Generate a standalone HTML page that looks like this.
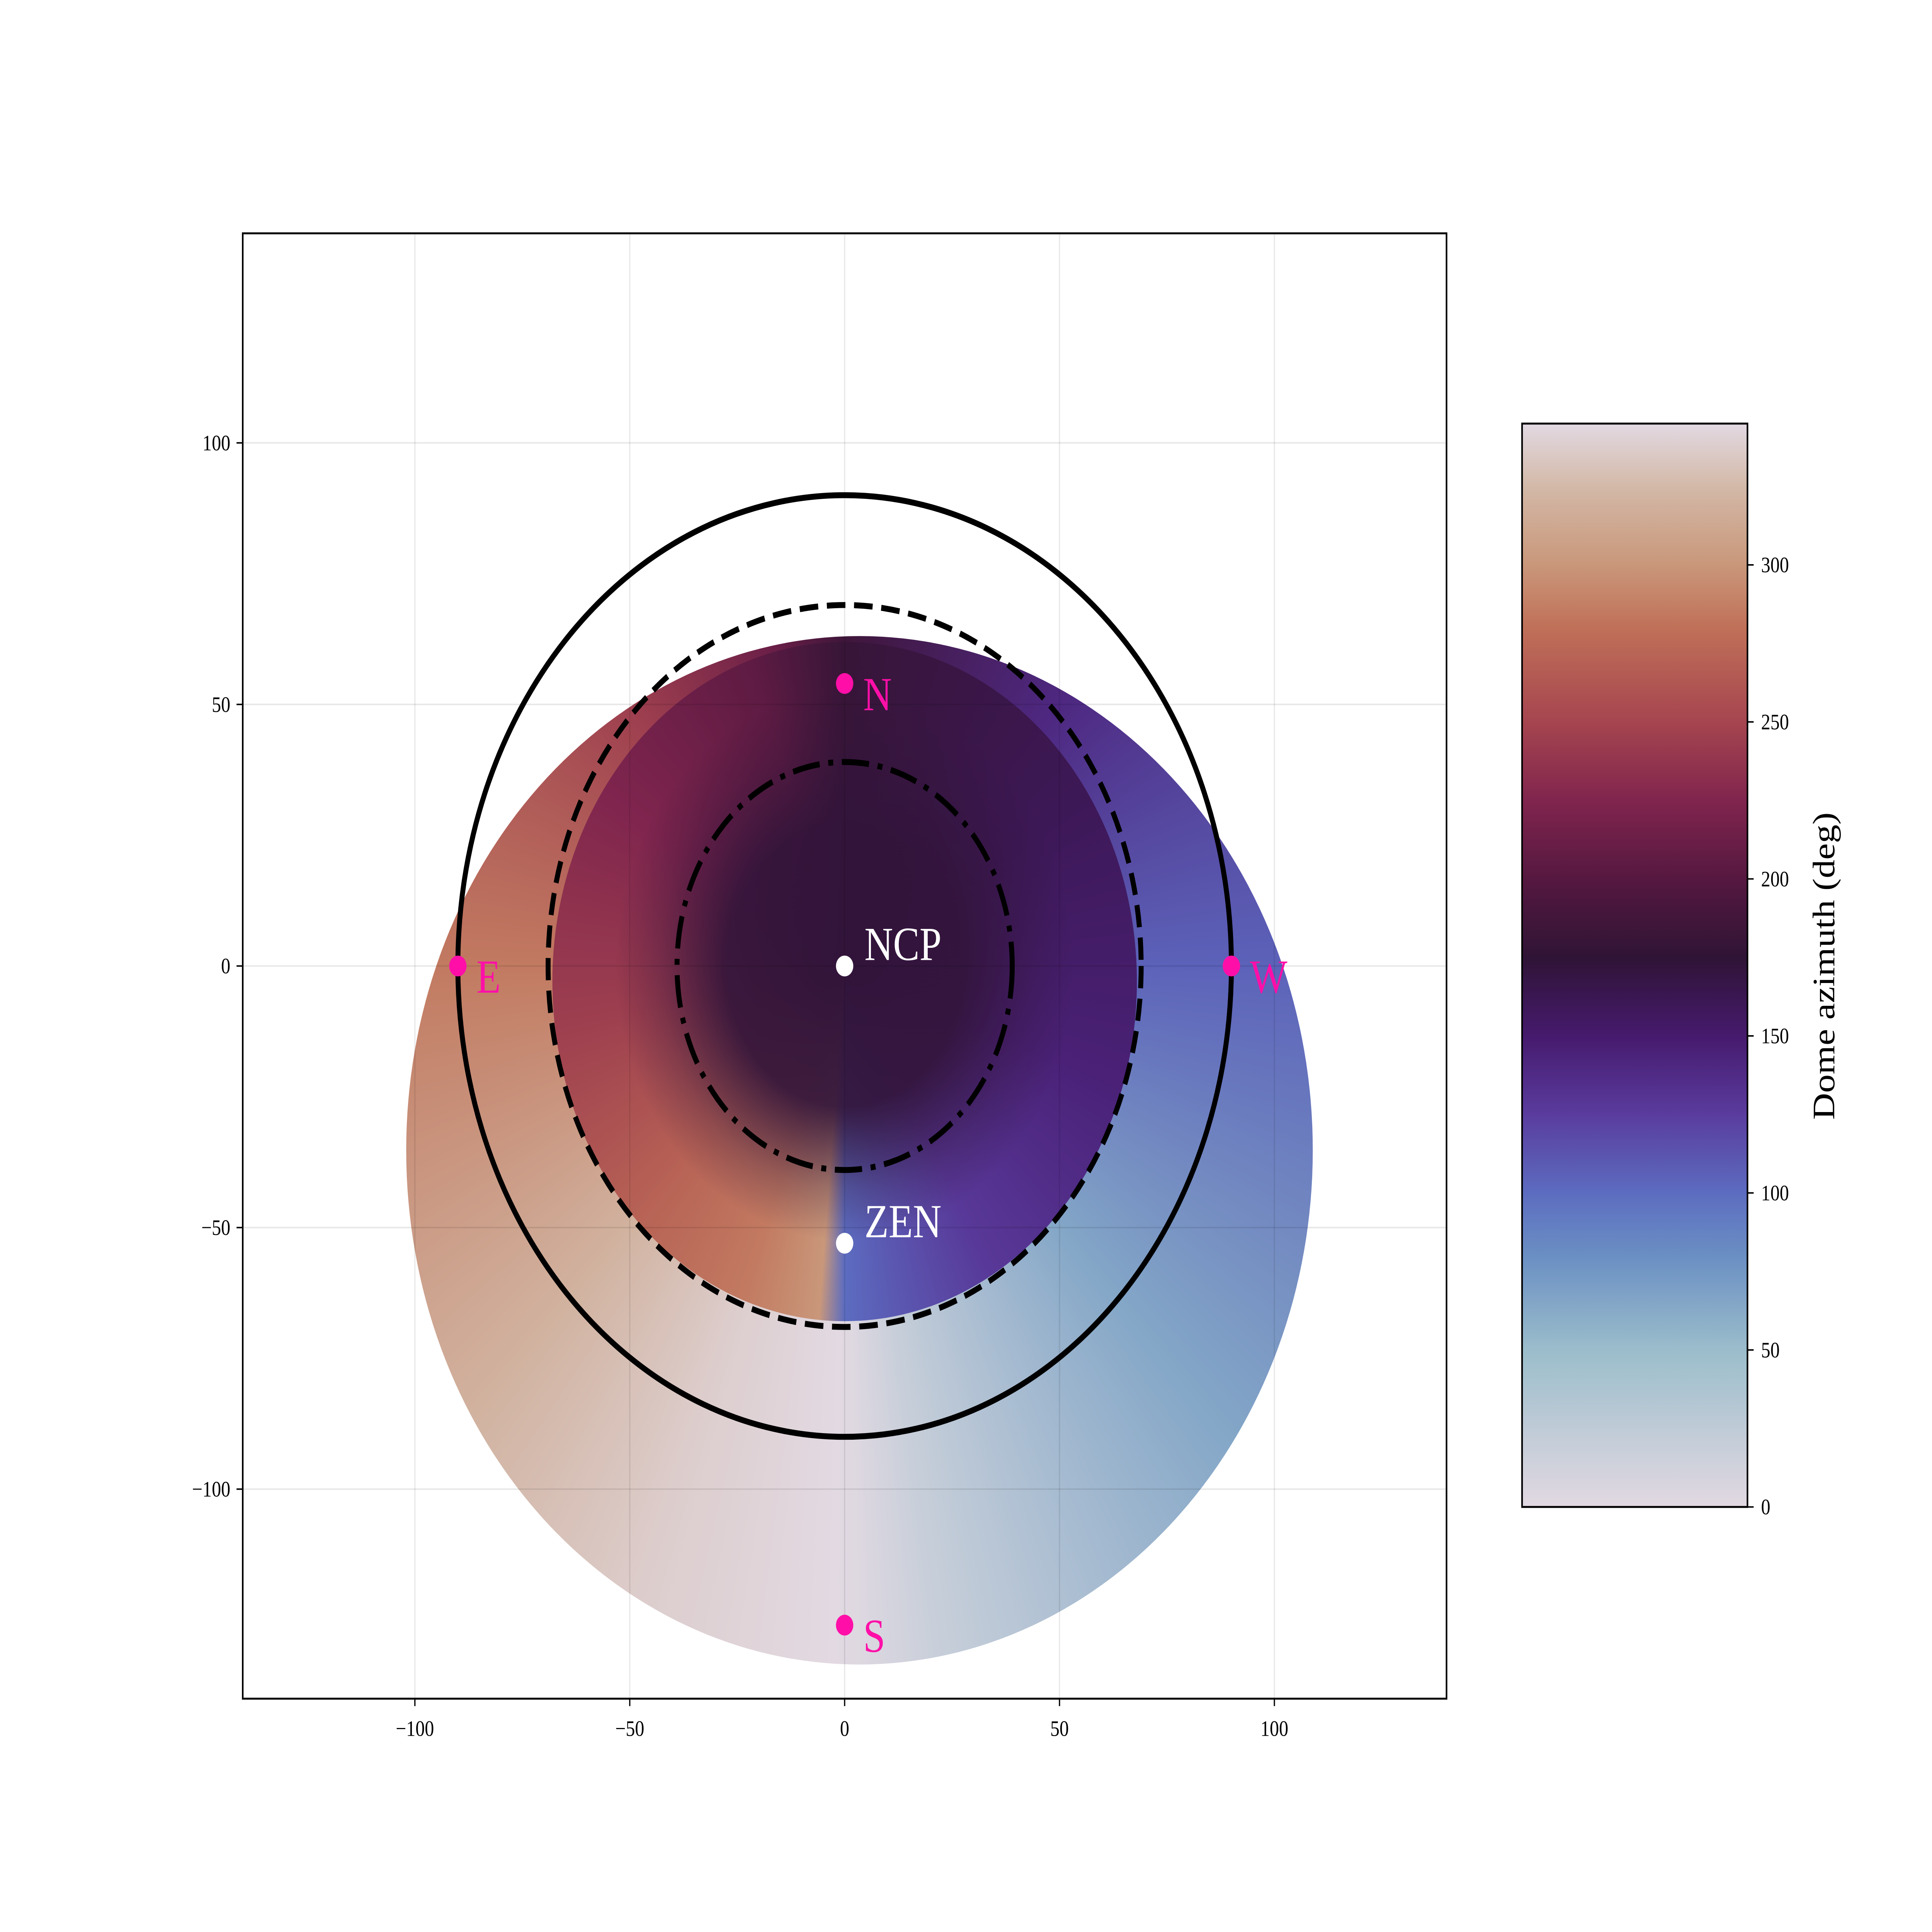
<!DOCTYPE html>
<html><head><meta charset="utf-8">
<style>
html,body{margin:0;padding:0;background:#fff;width:100vw;height:100vh;overflow:hidden;}
#wrap{position:absolute;left:0;top:0;width:1560px;height:1300px;transform-origin:0 0;overflow:hidden;background:#fff;}
.abs{position:absolute;}
svg text{font-family:"Liberation Serif",serif;}
</style></head>
<body>
<div id="wrap">
  <div id="disk" class="abs"></div>
  <div id="inner" class="abs"></div>
  <div id="diskDark" class="abs"></div>
  <div id="cbar" class="abs"></div>
  <svg id="ov" class="abs" width="1560" height="1300" viewBox="0 0 1560 1300" style="left:0;top:0"></svg>
</div>
<script>
// ---- data ----
const xTicks=[-100,-50,0,50,100];
const yTicks=[100,50,0,-50,-100];
const cbTicks=[0,50,100,150,200,250,300];
const angleStops=[0,45,90,135,170,179,181,200,225,270,315,345,360];
const azStops=[185,140,105,65,20,2,355,338,320,285,245,212,185];
const innerAngleStops=[0,60,110,150,170,180,185,200,225,260,300,340,360];
const innerAzStops=[180,160,145,128,110,100,300,285,270,245,225,205,180];
const markerNames=["N","E","W","S"];
const markerX=[0,-90,90,0];
const markerY=[54,0,0,-126];
const refNames=["NCP","ZEN"];
const refX=[0,0];
const refY=[0,-53];
const circleRadii=[90,69,39];
const circleStyles=["solid","dashed","dashdot"];
// colormap (style)
const cmV=[0,50,80,100,125,150,175,200,225,250,280,300,325,345];
const cmC=["#e2d9e2","#9bbdcb","#6a8fc3","#5c6cc0","#5a3c9e","#461a6d","#2f1436","#561840","#80254e","#a6454f","#c07058","#c9977a","#d3b9a8","#e2d9e2"];

function fit(){
  const w=window.innerWidth||6000, h=window.innerHeight||5000;
  document.getElementById('wrap').style.transform='scale('+(w/1560)+','+(h/1300)+')';
}
fit();
window.addEventListener('resize',fit);

function hex(c){return [parseInt(c.substr(1,2),16),parseInt(c.substr(3,2),16),parseInt(c.substr(5,2),16)];}
function cmap(v){
  v=Math.max(0,Math.min(345,v));
  for(let i=0;i<cmV.length-1;i++){
    if(v<=cmV[i+1]){const t=(v-cmV[i])/(cmV[i+1]-cmV[i]);const a=hex(cmC[i]),b=hex(cmC[i+1]);
      return "rgb("+a.map((x,k)=>Math.round(x+(b[k]-x)*t)).join(",")+")";}
  }
  return cmC[cmC.length-1];
}
const sx=x=>682+x*3.47, sy=y=>650-y*3.52;
const cy=v=>1014-v*2.113;
const NS="http://www.w3.org/2000/svg";
const ov=document.getElementById('ov');
function mk(tag,attrs,parent){const e=document.createElementNS(NS,tag);for(const k in attrs)e.setAttribute(k,attrs[k]);(parent||ov).appendChild(e);return e;}

// outer disk
const disk=document.getElementById('disk');
const dl=sx(-102),dr=sx(109),dt=sy(63),db=sy(-133.5);
const ncpX=sx(0)-dl,ncpY=sy(0)-dt;
Object.assign(disk.style,{left:dl+'px',top:dt+'px',width:(dr-dl)+'px',height:(db-dt)+'px',borderRadius:'50%',
  background:'conic-gradient(from 0deg at '+ncpX+'px '+ncpY+'px, '+angleStops.map((a,i)=>cmap(azStops[i])+' '+a+'deg').join(',')+')'});
// inner region (inside dashed circle)
const inner=document.getElementById('inner');
const il=sx(-68),ir=sx(68),it=sy(62),ib=sy(-68);
Object.assign(inner.style,{left:il+'px',top:it+'px',width:(ir-il)+'px',height:(ib-it)+'px',borderRadius:'50%',
  background:'conic-gradient(from 0deg at '+(sx(0)-il)+'px '+(sy(0)-it)+'px, '+innerAngleStops.map((a,i)=>cmap(innerAzStops[i])+' '+a+'deg').join(',')+')'});
const dd=document.getElementById('diskDark');
Object.assign(dd.style,{left:dl+'px',top:dt+'px',width:(dr-dl)+'px',height:(db-dt)+'px',borderRadius:'50%',
  background:'radial-gradient(circle at '+ncpX+'px '+ncpY+'px, rgba(50,20,58,1) 0px, rgba(50,20,58,0.92) 95px, rgba(50,20,58,0.3) 150px, rgba(50,20,58,0) 185px)'});

// grid
xTicks.forEach(t=>{const g=mk('line',{x1:sx(t),x2:sx(t),y1:157,y2:1143,stroke:'#000','stroke-opacity':0.09,'stroke-width':1});
  });
yTicks.forEach(t=>{const g=mk('line',{x1:196,x2:1168,y1:sy(t),y2:sy(t),stroke:'#000','stroke-opacity':0.09,'stroke-width':1});
  });

// circles
circleRadii.forEach((r,i)=>{
  const st=circleStyles[i];
  const c=mk('ellipse',{cx:sx(0),cy:sy(0),rx:r*3.47,ry:r*3.52,fill:'none',stroke:'#000','stroke-width':4});
  if(st==='dashed')c.setAttribute('stroke-dasharray','15 7');
  if(st==='dashdot')c.setAttribute('stroke-dasharray','22 7 4 7');
  
  
});

// markers
markerNames.forEach((n,i)=>{
  const c=mk('circle',{cx:sx(markerX[i]),cy:sy(markerY[i]),r:7,fill:'#ff0fa8'});
  
  
  const t=mk('text',{x:sx(markerX[i])+15,y:sy(markerY[i])+18,fill:'#ff0fa8','font-size':32});
  t.textContent=n;
  
  
});
refNames.forEach((n,i)=>{
  const c=mk('circle',{cx:sx(refX[i]),cy:sy(refY[i]),r:7,fill:'#fff'});
  
  
  const t=mk('text',{x:sx(refX[i])+16,y:sy(refY[i])-4,fill:'#fff','font-size':32});
  t.textContent=n;
  
  
});

// axes frame
const fr=mk('rect',{x:196,y:157,width:972,height:986,fill:'none',stroke:'#000','stroke-width':1.3});


xTicks.forEach(t=>{
  mk('line',{x1:sx(t),x2:sx(t),y1:1143,y2:1148,stroke:'#000','stroke-width':1});
  const tx=mk('text',{x:sx(t),y:1168,'font-size':15,'text-anchor':'middle'});
  tx.textContent=(t<0?'\u2212'+(-t):''+t);
  
  
});
yTicks.forEach(t=>{
  mk('line',{x1:191,x2:196,y1:sy(t),y2:sy(t),stroke:'#000','stroke-width':1});
  const tx=mk('text',{x:186,y:sy(t)+5,'font-size':15,'text-anchor':'end'});
  tx.textContent=(t<0?'\u2212'+(-t):''+t);
  
  
});

// colorbar
const cb=document.getElementById('cbar');
const stops=[];for(let v=0;v<=345;v+=5)stops.push(cmap(v)+' '+((v/345)*100).toFixed(2)+'%');
Object.assign(cb.style,{left:'1229px',top:cy(345)+'px',width:'182px',height:(cy(0)-cy(345))+'px',background:'linear-gradient(to top,'+stops.join(',')+')'});
const cbf=mk('rect',{x:1229,y:cy(345),width:182,height:cy(0)-cy(345),fill:'none',stroke:'#000','stroke-width':1.3});


cbTicks.forEach(t=>{
  mk('line',{x1:1411,x2:1416,y1:cy(t),y2:cy(t),stroke:'#000','stroke-width':1});
  const tx=mk('text',{x:1422,y:cy(t)+5,'font-size':15});
  tx.textContent=''+t;
  
  
});
const lab=mk('text',{x:1481,y:650,'font-size':25,'text-anchor':'middle',transform:'rotate(-90 1481 650)'});
lab.textContent='Dome azimuth (deg)';


</script>
</body></html>
